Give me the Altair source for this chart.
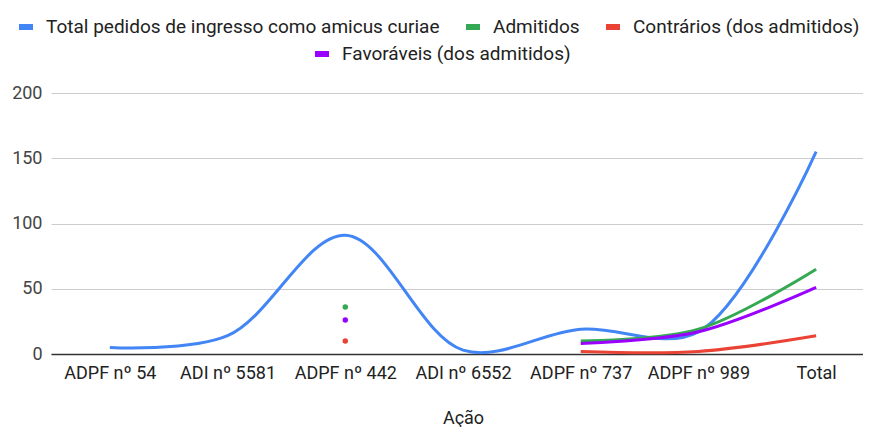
import altair as alt
import pandas as pd

categories = ["ADPF nº 54", "ADI nº 5581", "ADPF nº 442", "ADI nº 6552",
              "ADPF nº 737", "ADPF nº 989", "Total"]
total = [5, 14, 91, 3, 19, 17, 155]
admitidos = [None, None, 36, None, 10, 19, 65]
contrarios = [None, None, 10, None, 2, 2, 14]
favoraveis = [None, None, 26, None, 8, 17, 51]

series_names = ["Total pedidos de ingresso como amicus curiae", "Admitidos",
                "Contrários (dos admitidos)", "Favoráveis (dos admitidos)"]
series_values = [total, admitidos, contrarios, favoraveis]
colors = ["#4285f4", "#34a853", "#ea4335", "#9900ff"]

rows = []
for name, vals in zip(series_names, series_values):
    seg = 0
    prev_none = True
    for i, v in enumerate(vals):
        if v is None:
            prev_none = True
            continue
        if prev_none:
            seg += 1
        prev_none = False
        left = i > 0 and vals[i - 1] is not None
        right = i < len(vals) - 1 and vals[i + 1] is not None
        rows.append({"acao": categories[i], "serie": name, "valor": v,
                     "seg": f"{name}-{seg}", "isolado": not (left or right)})
df = pd.DataFrame(rows)

FONT = "Roboto"
xscale = alt.Scale(type="point", domain=categories, padding=0.5, range=[0, 824])
yscale = alt.Scale(domain=[0, 200])

x_enc = alt.X("acao:N", scale=xscale, sort=categories,
              axis=alt.Axis(title="Ação", labelAngle=0, ticks=False, domainColor="#333333",
                            domainWidth=1.5, labelPadding=10, titlePadding=27,
                            titleX=412, labelFontSize=18, titleFontSize=18,
                            titleFontWeight="normal", labelColor="#222222",
                            titleColor="#222222", grid=False))
y_enc = alt.Y("valor:Q", scale=yscale,
              axis=alt.Axis(title=None, values=[0, 50, 100, 150, 200], ticks=False,
                            domain=False, gridColor="#cccccc", labelPadding=9,
                            labelFontSize=18, labelColor="#444444"))

LEG_FS = 19
main3 = series_names[:3]
lineA = alt.Chart(df).transform_filter(
    alt.FieldOneOfPredicate(field="serie", oneOf=main3)
).mark_line(interpolate="catmull-rom", strokeWidth=3).encode(
    x=x_enc, y=y_enc, detail="seg:N",
    color=alt.Color("serie:N", scale=alt.Scale(domain=main3, range=colors[:3]),
                    legend=alt.Legend(title=None, orient="none", direction="horizontal",
                                      columns=3, legendX=-35, legendY=-76,
                                      symbolType="stroke", symbolSize=196,
                                      symbolStrokeWidth=6, labelFontSize=LEG_FS,
                                      labelLimit=700, columnPadding=14, labelOffset=10,
                                      labelColor="#222222", padding=0)),
)

lineB = alt.Chart(df).transform_filter(
    alt.FieldEqualPredicate(field="serie", equal=series_names[3])
).mark_line(interpolate="catmull-rom", strokeWidth=3).encode(
    x=x_enc, y=y_enc, detail="seg:N",
    stroke=alt.Stroke("serie:N", scale=alt.Scale(domain=[series_names[3]], range=[colors[3]]),
                      legend=alt.Legend(title=None, orient="none", direction="horizontal",
                                        legendX=261, legendY=-49,
                                        symbolType="stroke", symbolSize=196,
                                        symbolStrokeWidth=6, labelFontSize=LEG_FS,
                                        labelLimit=700, labelOffset=10,
                                        labelColor="#222222", padding=0)),
)

points = alt.Chart(df).transform_filter(
    alt.datum.isolado
).mark_circle(size=30, opacity=1).encode(
    x=x_enc, y=y_enc,
    fill=alt.Fill("serie:N", scale=alt.Scale(domain=series_names, range=colors), legend=None),
)

chart = alt.layer(lineA, lineB, points).resolve_scale(
    color="independent"
).properties(
    width=812, height=261,
    autosize=alt.AutoSizeParams(type="none"),
    padding={"left": 43, "top": 85, "right": 0, "bottom": 73},
).configure(font=FONT).configure_view(stroke=None)

chart.save("out.html", embed_options={"renderer": "svg", "actions": False})
